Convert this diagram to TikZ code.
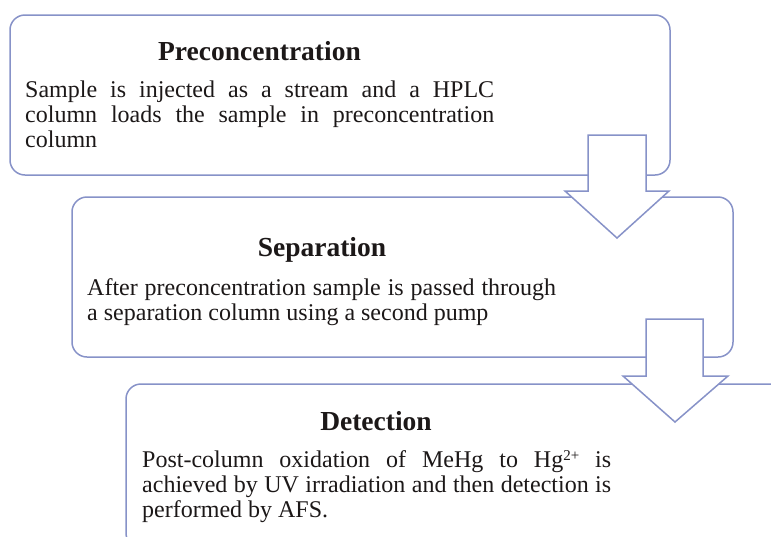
\documentclass[tikz,border=0pt]{standalone}
\usepackage{fontspec}
\setmainfont{Liberation Serif}
\definecolor{edge}{RGB}{135,146,200}
\definecolor{ink}{RGB}{28,24,24}
\tikzset{
  x=1pt, y=-1pt,
  box/.style={draw=edge, line width=1.5pt, rounded corners=15pt, fill=white},
  blockarrow/.style={draw=edge, line width=1.5pt, fill=white, line join=miter},
  title/.style={anchor=base, inner sep=0pt, text=ink, font=\fontsize{27.5}{30}\selectfont\bfseries},
  body/.style={anchor=base west, inner sep=0pt, text=ink, font=\fontsize{24}{25}\selectfont},
}
\newcommand{\jline}[1]{\makebox[469pt][s]{#1}}
\newcommand{\supsc}[1]{\raisebox{7pt}{\fontsize{15}{15}\selectfont #1}}
\begin{document}
\begin{tikzpicture}
\useasboundingbox (0,0) rectangle (771,536);
\clip (0,0) rectangle (771,536);
\fill[white] (0,0) rectangle (771,536);
% boxes 1 and 2
\draw[box] (10,15) rectangle (670,175);
\draw[box] (72,197) rectangle (733,357);
% arrow 1
\draw[blockarrow] (588,135) -- (646,135) -- (646,191) -- (669,191) -- (617,238) -- (565,191) -- (588,191) -- cycle;
% box 3
\draw[box] (126,384) rectangle (820,548);
% arrow 2
\draw[blockarrow] (646,319) -- (703,319) -- (703,376) -- (728,376) -- (675,422) -- (623,376) -- (646,376) -- cycle;
% texts box 1
\node[title] (t1) at (259.5,60) {Preconcentration};
\node[body] (l1a) at (25,97) {\jline{Sample is injected as a stream and a HPLC}};
\node[body] (l1b) at (25,122) {\jline{column loads the sample in preconcentration}};
\node[body] (l1c) at (25,147) {column};
% texts box 2
\node[title] (t2) at (322,256) {Separation};
\node[body] (l2a) at (87,295) {\jline{After preconcentration sample is passed through}};
\node[body] (l2b) at (87,320) {a separation column using a second pump};
% texts box 3
\node[title] (t3) at (376,430) {Detection};
\node[body] (l3a) at (142,467) {\jline{Post-column oxidation of MeHg to Hg\supsc{2+} is}};
\node[body] (l3b) at (142,492) {\jline{achieved by UV irradiation and then detection is}};
\node[body] (l3c) at (142,517) {performed by AFS.};
\end{tikzpicture}
\end{document}
